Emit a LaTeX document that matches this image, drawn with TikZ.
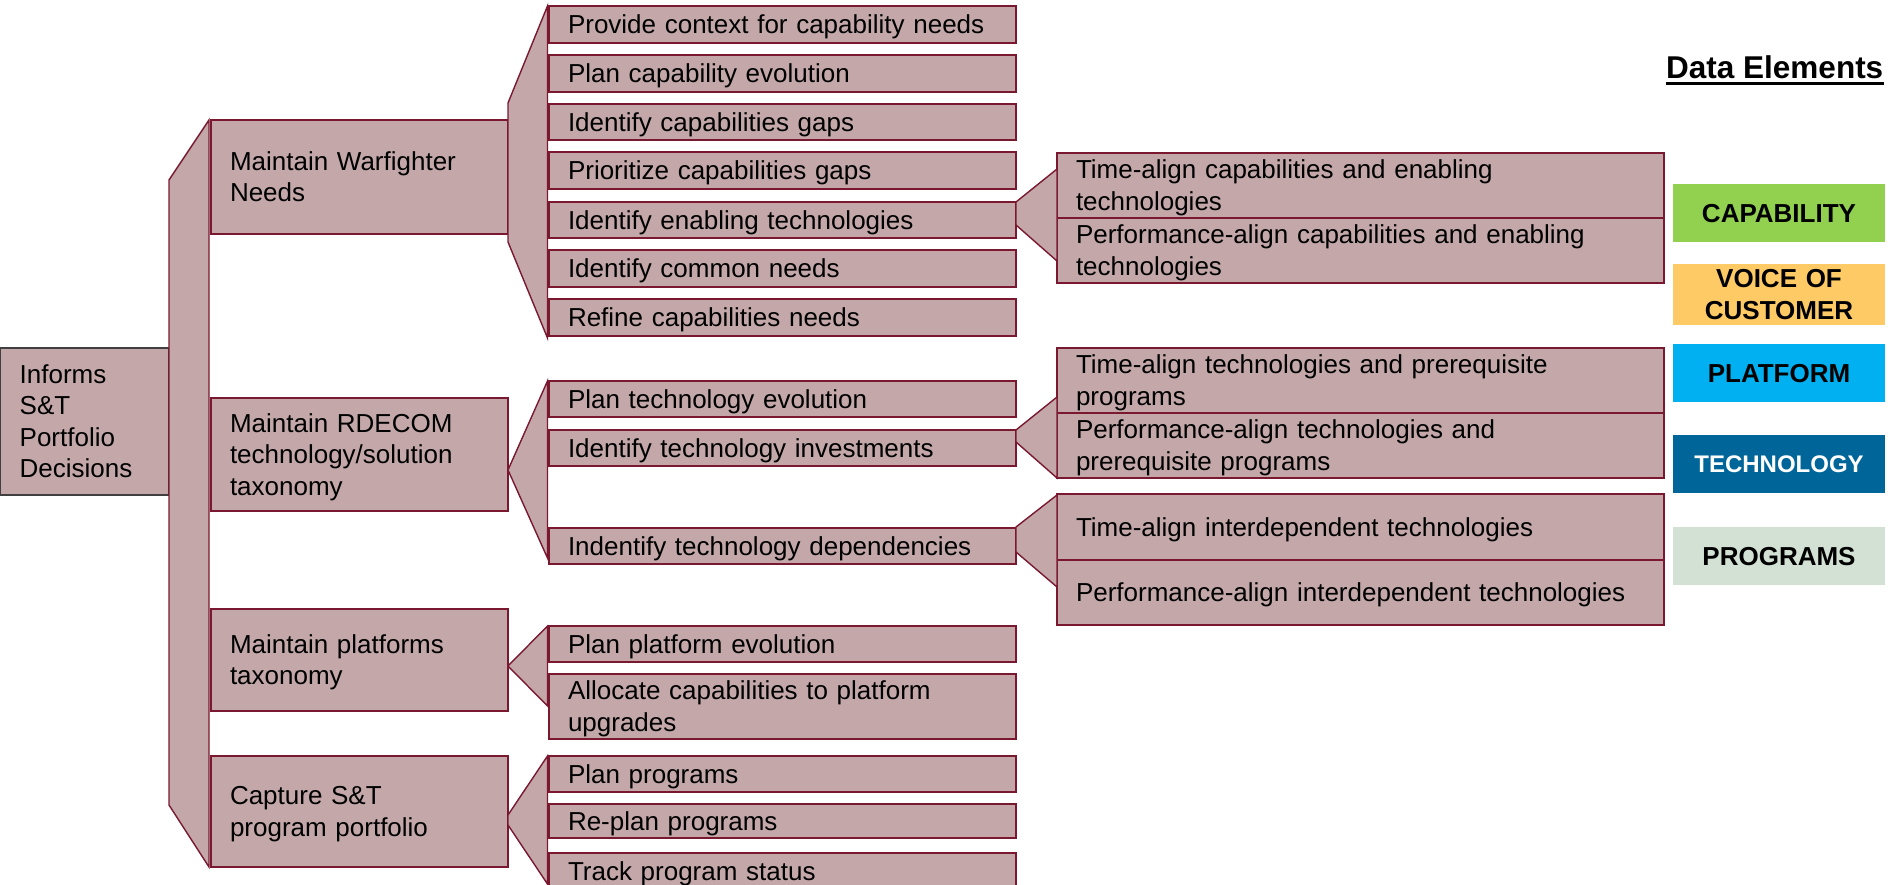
\documentclass[tikz,border=0pt]{standalone}
\usepackage{fontspec}
\setmainfont{Liberation Sans}
\usetikzlibrary{calc}

\definecolor{boxfill}{RGB}{196,168,169}
\definecolor{boxline}{RGB}{122,24,48}
\definecolor{rootline}{RGB}{64,64,64}
\definecolor{capgreen}{RGB}{146,208,80}
\definecolor{vocgold}{RGB}{254,202,102}
\definecolor{platblue}{RGB}{0,176,240}
\definecolor{techblue}{RGB}{0,102,153}
\definecolor{proggray}{RGB}{211,225,213}

\tikzset{
  boxbase/.style={rectangle, anchor=north west, inner ysep=0pt, outer sep=0pt,
    execute at begin node={\rule{0pt}{0.905em}},
    execute at end node={\rule[-0.212em]{0pt}{0.212em}}},
  item/.style={boxbase, draw=boxline, fill=boxfill, line width=1.6pt,
    inner xsep=19pt, align=left, font=\fontsize{26}{31.5}\selectfont},
  rootbox/.style={item, draw=rootline, line width=1.4pt},
  brk/.style={draw=boxline, fill=boxfill, line width=1.4pt, line join=miter},
  legend/.style={boxbase, inner xsep=0pt, align=center,
    font=\fontsize{26}{31.5}\selectfont\bfseries},
}

% left, top, right, bottom given in pixel units (y grows downwards)
\newcommand\itembox[7]{%
  \pgfmathsetmacro\bxw{#5-#3}\pgfmathsetmacro\bxh{#6-#4}\pgfmathsetmacro\bxt{#5-#3-38}%
  \node[#1, minimum width=\bxw pt, minimum height=\bxh pt, text width=\bxt pt] (#2) at (#3,#4) {#7};}
\newcommand\legendbox[7]{%
  \pgfmathsetmacro\bxw{#5-#3}\pgfmathsetmacro\bxh{#6-#4}%
  \node[legend, #1, minimum width=\bxw pt, minimum height=\bxh pt, text width=\bxw pt] (#2) at (#3,#4) {#7};}

\begin{document}
\begin{tikzpicture}[x=1pt,y=-1pt]
\clip (0,0) rectangle (1890,885);

% ---- tree nodes ----
\itembox{rootbox}{root}{0.7}{348}{169}{495}{Informs\\S\&T\\Portfolio\\Decisions}

\itembox{item}{wf}{211}{120}{508}{234}{Maintain Warfighter\\Needs}
\itembox{item}{rd}{211}{398}{508}{511}{Maintain RDECOM\\technology/solution\\taxonomy}
\itembox{item}{pf}{211}{609}{508}{711}{Maintain platforms\\taxonomy}
\itembox{item}{cp}{211}{756}{508}{867}{Capture S\&T\\program portfolio}

\itembox{item}{a1}{549}{6}{1016}{43}{Provide context for capability needs}
\itembox{item}{a2}{549}{55}{1016}{92}{Plan capability evolution}
\itembox{item}{a3}{549}{104}{1016}{140}{Identify capabilities gaps}
\itembox{item}{a4}{549}{152}{1016}{189}{Prioritize capabilities gaps}
\itembox{item}{a5}{549}{202}{1016}{238}{Identify enabling technologies}
\itembox{item}{a6}{549}{250}{1016}{287}{Identify common needs}
\itembox{item}{a7}{549}{299}{1016}{336}{Refine capabilities needs}

\itembox{item}{b1}{549}{381}{1016}{417}{Plan technology evolution}
\itembox{item}{b2}{549}{430}{1016}{466}{Identify technology investments}
\itembox{item}{b3}{549}{528}{1016}{564}{Indentify technology dependencies}

\itembox{item}{c1}{549}{626}{1016}{662}{Plan platform evolution}
\itembox{item}{c2}{549}{674}{1016}{739}{Allocate capabilities to platform\\upgrades}

\itembox{item}{d1}{549}{756}{1016}{792}{Plan programs}
\itembox{item}{d2}{549}{804}{1016}{838}{Re-plan programs}
\itembox{item}{d3}{549}{853}{1016}{890}{Track program status}

\itembox{item}{e1}{1057}{153}{1664}{218}{Time-align capabilities and enabling\\technologies}
\itembox{item}{e2}{1057}{218}{1664}{283}{Performance-align capabilities and enabling\\technologies}
\itembox{item}{f1}{1057}{348}{1664}{413}{Time-align technologies and prerequisite\\programs}
\itembox{item}{f2}{1057}{413}{1664}{478}{Performance-align technologies and\\prerequisite programs}
\itembox{item}{g1}{1057}{494}{1664}{560}{Time-align interdependent technologies}
\itembox{item}{g2}{1057}{560}{1664}{625}{Performance-align interdependent technologies}

% ---- brackets joining each parent to its children ----
\filldraw[brk] (root.east |- 0,180) -- ($(wf.west |- 0,120)+(-2,0)$)
  -- ($(cp.west |- 0,867)+(-2,0)$) -- (root.east |- 0,805) -- cycle;
\filldraw[brk] (wf.east |- 0,103) -- ($(a1.west |- 0,6)+(-1.5,0)$)
  -- ($(a7.west |- 0,338)+(-1.5,0)$) -- (wf.east |- 0,242) -- cycle;
\filldraw[brk] (rd.east |- 0,470) -- ($(b1.west |- 0,381)+(-1.5,0)$)
  -- ($(b3.west |- 0,558)+(-1.5,0)$) -- cycle;
\filldraw[brk] (pf.east |- 0,666) -- ($(c1.west |- 0,626)+(-1.5,0)$)
  -- ($(c2.west |- 0,706)+(-1.5,0)$) -- cycle;
\filldraw[brk] (cp.east |- 0,815) -- ($(d1.west |- 0,756)+(-1.5,0)$)
  -- ($(d3.west |- 0,884)+(-1.5,0)$) -- (cp.east |- 0,825) -- cycle;
\filldraw[brk] (a5.east |- 0,202) -- (e1.west |- 0,169)
  -- (e2.west |- 0,261) -- (a5.east |- 0,225) -- cycle;
\filldraw[brk] (b2.east |- 0,430) -- (f1.west |- 0,397)
  -- (f2.west |- 0,478) -- (b2.east |- 0,442) -- cycle;
\filldraw[brk] (b3.east |- 0,527) -- (g1.west |- 0,495)
  -- (g2.west |- 0,587) -- (b3.east |- 0,552) -- cycle;

% ---- legend ----
\node[anchor=base west, inner sep=0pt, font=\fontsize{31.5}{36}\selectfont\bfseries]
  (title) at (1666,79) {Data Elements};
\draw[line width=3pt] ($(title.base west)+(0,5)$) -- ($(title.base east)+(0,5)$);

\legendbox{fill=capgreen}{cap}{1673}{184}{1885}{242}{CAPABILITY}
\legendbox{fill=vocgold}{voc}{1673}{264}{1885}{322}{VOICE OF\\CUSTOMER}
\legendbox{fill=platblue}{plat}{1673}{344}{1885}{402}{PLATFORM}
\legendbox{fill=techblue, text=white, font=\fontsize{24}{29}\selectfont\bfseries}{tech}{1673}{435}{1885}{493}{TECHNOLOGY}
\legendbox{fill=proggray}{prog}{1673}{527}{1885}{585}{PROGRAMS}
\end{tikzpicture}
\end{document}
